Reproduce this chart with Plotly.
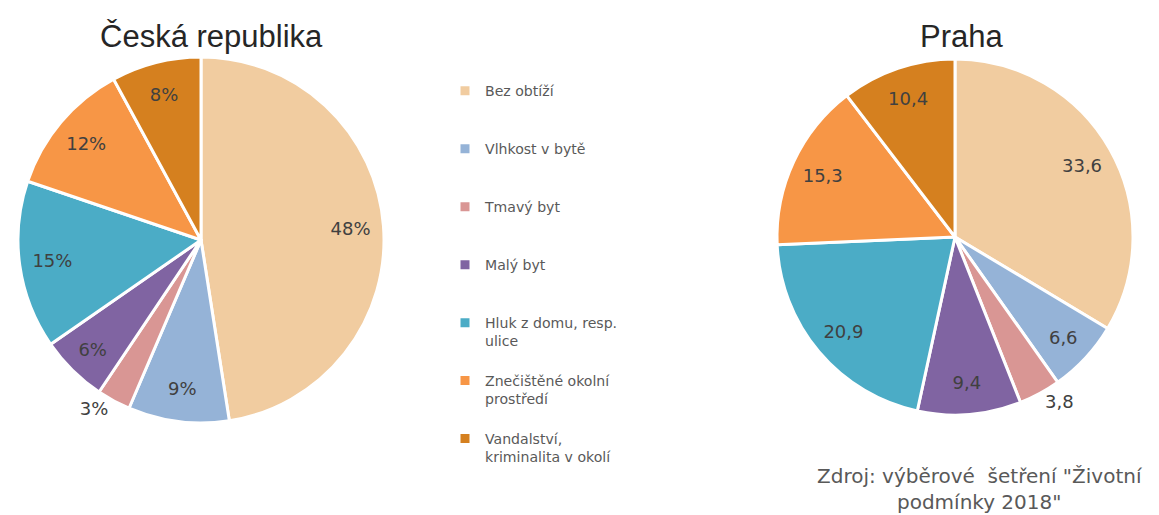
import plotly.graph_objects as go

categories = ["Bez obtíží", "Vlhkost v bytě", "Tmavý byt", "Malý byt",
              "Hluk z domu, resp. ulice", "Znečištěné okolní prostředí",
              "Vandalství, kriminalita v okolí"]
legend_labels = ["Bez obtíží", "Vlhkost v bytě", "Tmavý byt", "Malý byt",
                 "Hluk z domu, resp.<br>ulice", "Znečištěné okolní<br>prostředí",
                 "Vandalství,<br>kriminalita v okolí"]
cr_values = [48, 9, 3, 6, 15, 12, 8]
praha_values = [33.6, 6.6, 3.8, 9.4, 20.9, 15.3, 10.4]
colors = ["#F1CCA0", "#95B3D7", "#D99694", "#8064A2", "#4BACC6", "#F79646", "#D5801F"]

# pad legend entries to three lines so the spacing is even
def pad(lbl):
    n = lbl.count("<br>") + 1
    return lbl + "<br>\u00a0" * (3 - n)

labels = [pad(l) for l in legend_labels]

cr_pos = ["inside", "inside", "outside", "inside", "inside", "inside", "inside"]
pr_pos = ["inside", "inside", "outside", "inside", "inside", "inside", "inside"]

txtfont = dict(family="DejaVu Sans", size=18, color="#404040")
clear = ["rgba(0,0,0,0)"] * len(categories)

cr_domain = dict(x=[18/1159, 384/1159], y=[92/515, 458/515])
pr_domain = dict(x=[777/1159, 1133/1159], y=[100/515, 456/515])

fig = go.Figure()
for vals, dom, tmpl, pos, nm in [
    (cr_values, cr_domain, "%{value}%", cr_pos, "Česká republika"),
    (praha_values, pr_domain, "%{value:.1f}", pr_pos, "Praha"),
]:
    # coloured slices
    fig.add_trace(go.Pie(
        labels=labels, values=vals, sort=False, direction="clockwise",
        marker=dict(colors=colors, line=dict(color="white", width=3)),
        textinfo="none", domain=dom, name=nm,
        hovertext=categories, hoverinfo="text+value",
    ))
    # transparent ring carrying the data labels near the outer edge
    fig.add_trace(go.Pie(
        labels=labels, values=vals, sort=False, direction="clockwise",
        hole=0.64, showlegend=False,
        marker=dict(colors=clear, line=dict(width=0)),
        texttemplate=tmpl, textposition=pos,
        insidetextorientation="horizontal", textfont=txtfont,
        domain=dom, hoverinfo="skip", name=nm,
    ))

fig.update_layout(
    width=1159, height=515,
    margin=dict(l=0, r=0, t=0, b=0),
    paper_bgcolor="white", plot_bgcolor="white",
    separators=", ",
    font=dict(family="DejaVu Sans", color="#404040"),
    legend=dict(x=445/1159, xanchor="left", y=1 - 75/515, yanchor="top",
                font=dict(family="DejaVu Sans", size=14.1, color="#595959"),
                valign="top", borderwidth=0, bgcolor="rgba(0,0,0,0)"),
    annotations=[
        dict(text="Česká republika", x=211/1159, y=1 - 36/515, xref="paper", yref="paper",
             xanchor="center", yanchor="middle", showarrow=False,
             font=dict(family="Liberation Sans", size=31, color="#262626")),
        dict(text="Praha", x=961/1159, y=1 - 36/515, xref="paper", yref="paper",
             xanchor="center", yanchor="middle", showarrow=False,
             font=dict(family="Liberation Sans", size=31, color="#262626")),
        dict(text="Zdroj: výběrové  šetření \"Životní<br>podmínky 2018\"",
             x=980/1159, y=1 - 489/515, xref="paper", yref="paper",
             xanchor="center", yanchor="middle", align="center", showarrow=False,
             font=dict(family="DejaVu Sans", size=20, color="#595959")),
    ],
)

fig.write_html("out.html", config={"displayModeBar": False},
               post_script="document.body.style.margin='0px';")
